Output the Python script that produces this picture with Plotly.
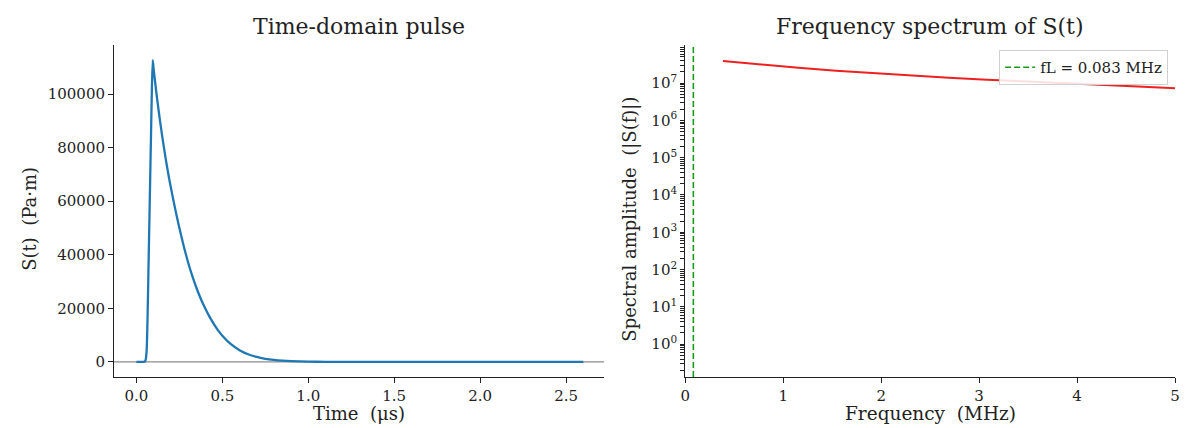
import plotly.graph_objects as go

# ---- time-domain pulse S(t) ----
time_us = [0.0, 0.04, 0.05, 0.055, 0.06, 0.065, 0.07, 0.075, 0.08, 0.085, 0.09,
           0.095, 0.10, 0.11, 0.12, 0.13, 0.14, 0.15, 0.17, 0.19, 0.21, 0.23,
           0.25, 0.275, 0.30, 0.325, 0.35, 0.375, 0.40, 0.425, 0.45, 0.475,
           0.50, 0.55, 0.60, 0.65, 0.70, 0.75, 0.80, 0.85, 0.90, 1.00, 1.10,
           1.20, 1.40, 1.60, 2.00, 2.60]
pulse_pa_m = [0, 0, 200, 1200, 5000, 17000, 34000, 51000, 68000, 85000, 102000,
              112700, 109500, 103800, 98500, 93500, 88800, 84300, 76000, 68600,
              62000, 55800, 50000, 43300, 37300, 32100, 27500, 23500, 20000,
              16900, 14200, 11800, 9800, 6600, 4400, 2850, 1850, 1180, 750,
              470, 290, 110, 40, 15, 2, 0, 0, 0]

# ---- amplitude spectrum |S(f)| ----
freq_mhz = [0.385, 0.77, 1.155, 1.54, 1.925, 2.31, 2.69, 3.08, 3.46, 3.85,
            4.23, 4.62, 5.0]
spectrum_amp = [3.89e7, 3.09e7, 2.57e7, 2.14e7, 1.82e7, 1.58e7, 1.38e7,
                1.23e7, 1.12e7, 1.0e7, 8.9e6, 8.1e6, 7.2e6]

f_low_mhz = 0.083

time_ticks = [0.0, 0.5, 1.0, 1.5, 2.0, 2.5]
pulse_ticks = [0, 20000, 40000, 60000, 80000, 100000]
freq_ticks = [0, 1, 2, 3, 4, 5]
amp_exponents = [0, 1, 2, 3, 4, 5, 6, 7]

FONT = "DejaVu Serif"
INK = "#222222"
W, H = 1188, 428


def px_x(p):
    return p / W


def px_y(p):
    return 1 - p / H


fig = go.Figure()

fig.add_trace(go.Scatter(
    x=time_us, y=pulse_pa_m, mode="lines",
    line=dict(color="#1f77b4", width=2.3, shape="spline", smoothing=0.5),
    xaxis="x", yaxis="y", showlegend=False,
))

fig.add_trace(go.Scatter(
    x=freq_mhz, y=spectrum_amp, mode="lines",
    line=dict(color="#ee2020", width=2.0),
    xaxis="x2", yaxis="y2", showlegend=False,
))

# baseline at S = 0
fig.add_shape(type="line", xref="x domain", yref="y", x0=0, x1=1, y0=0, y1=0,
              line=dict(color="#8c8c8c", width=1.3), layer="below")

# lower cut-off frequency marker
fig.add_shape(type="line", xref="x2", yref="y2 domain",
              x0=f_low_mhz, x1=f_low_mhz, y0=0, y1=1,
              line=dict(color="#1a9a1a", width=1.6, dash="6px,3px"),
              showlegend=True, name=f"fL = {f_low_mhz:.3f} MHz")

axis_common = dict(
    showline=True, linecolor=INK, linewidth=1.2, mirror=False,
    ticks="outside", ticklen=5, tickwidth=1.2, tickcolor=INK,
    showgrid=False, zeroline=False,
    tickfont=dict(family=FONT, size=15, color=INK),
)

LOG_RANGE = [-0.88, 8.02]

# decade ticks carry labels, the in-between 2..9 ticks stay unlabelled
decade_vals = [10 ** e for e in amp_exponents]
decade_text = [f"10<sup>{e}</sup>" for e in amp_exponents]
minor_vals = [m * 10 ** e for e in range(-1, 8) for m in range(2, 10)]
log_tickvals = decade_vals + minor_vals
log_ticktext = decade_text + [""] * len(minor_vals)

LEFT = (110, 604)
RIGHT = (686, 1180)
TOP, BOTTOM = 45, 377

fig.update_layout(
    width=W, height=H,
    margin=dict(l=0, r=0, t=0, b=0),
    paper_bgcolor="white", plot_bgcolor="white",
    xaxis=dict(domain=[px_x(LEFT[0]), px_x(LEFT[1])], anchor="y",
               range=[-0.13, 2.72], tickvals=time_ticks,
               ticktext=[f"{v:.1f}" for v in time_ticks], **axis_common),
    yaxis=dict(domain=[px_y(BOTTOM), px_y(TOP)], anchor="x",
               range=[-5630, 118330], tickvals=pulse_ticks,
               ticktext=[str(v) for v in pulse_ticks], **axis_common),
    xaxis2=dict(domain=[px_x(RIGHT[0]), px_x(RIGHT[1])], anchor="y2",
                range=[0, 5], tickvals=freq_ticks,
                ticktext=[str(v) for v in freq_ticks], **axis_common),
    yaxis2=dict(domain=[px_y(BOTTOM), px_y(TOP)], anchor="x2", type="log",
                range=LOG_RANGE, tickvals=log_tickvals, ticktext=log_ticktext,
                **{**axis_common, "ticklen": 4, "tickwidth": 1.4}),
    legend=dict(x=px_x(1173), xanchor="right", y=px_y(50), yanchor="top",
                bgcolor="rgba(255,255,255,0.85)", bordercolor="#d0d0d0",
                borderwidth=1, font=dict(family=FONT, size=15, color=INK)),
)


def label(text, x, y, size, angle=0):
    fig.add_annotation(text=text, x=px_x(x), y=px_y(y), xref="paper",
                       yref="paper", showarrow=False, xanchor="center",
                       yanchor="middle", textangle=angle,
                       font=dict(family=FONT, size=size, color=INK))


# panel titles
label("Time-domain pulse", sum(LEFT) / 2, 27, 22)
label("Frequency spectrum of S(t)", sum(RIGHT) / 2, 27, 22)

# axis titles
label("Time  (μs)", sum(LEFT) / 2, 413, 18)
label("S(t)  (Pa·m)", 24, (TOP + BOTTOM) / 2 + 8, 18, -90)
label("Frequency  (MHz)", sum(RIGHT) / 2, 413, 18.5)
label("Spectral amplitude  (|S(f)|)", 630, (TOP + BOTTOM) / 2 + 8, 18, -90)

fig.write_html("out.html")
